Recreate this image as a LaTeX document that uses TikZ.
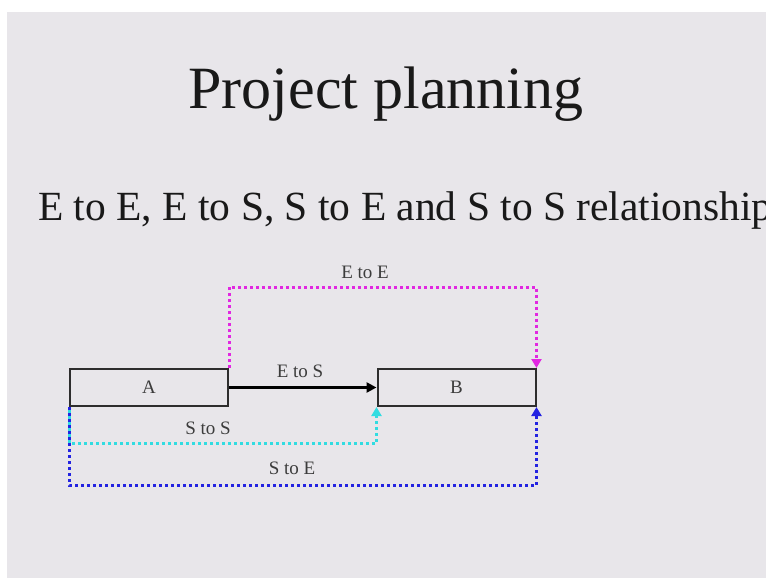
\documentclass[tikz,border=0pt]{standalone}
\usepackage{fontspec}
\setmainfont{Liberation Serif}
\usetikzlibrary{arrows.meta}
\definecolor{slidebg}{RGB}{232,230,234}
\definecolor{boxline}{RGB}{45,45,45}
\definecolor{eecol}{RGB}{225,40,225}
\definecolor{sscol}{RGB}{50,220,225}
\definecolor{secol}{RGB}{35,35,225}
\definecolor{lbl}{RGB}{60,60,60}
\tikzset{
  taskbox/.style={draw=boxline, line width=2pt, fill=slidebg, minimum width=158pt, minimum height=37pt, inner sep=0pt, font=\fontsize{19}{21}\selectfont, text=lbl},
  rel/.style={line width=3pt, dash pattern=on 3pt off 3pt, -{Triangle[width=10pt,length=9pt]}},
  lab/.style={font=\fontsize{19}{21}\selectfont, text=lbl, inner sep=0pt},
}
\begin{document}
\begin{tikzpicture}[x=1pt,y=-1pt]
\useasboundingbox (0,0) rectangle (766,578);
\fill[white] (0,0) rectangle (766,578);
\fill[slidebg] (7,12) rectangle (766,578);
\node[font=\fontsize{60}{66}\selectfont, text=black!90, anchor=base] (title) at (386,108) {Project planning};
\begin{scope}
\clip (7,12) rectangle (766,578);
\node[font=\fontsize{41.5}{46}\selectfont, text=black!90, anchor=base west, inner sep=0pt] (sub) at (38,220) {E to E, E to S, S to E and S to S relationship};
\end{scope}
\coordinate (topE) at (0,287);
\coordinate (botS) at (0,443);
\coordinate (botE) at (0,485);
\node[taskbox] (A) at (149,387.5) {A};
\node[taskbox] (B) at (456.5,387.5) {B};
\draw[line width=2.5pt, black, -{Triangle[width=10pt,length=10pt]}] (A.east) -- (B.west);
\draw[rel, eecol] (A.north east) -- (A.north east |- topE) -| (B.north east);
\draw[rel, secol] (A.south west) -- (A.south west |- botE) -| (B.south east);
\draw[rel, sscol] (A.south west |- 0,410) -- (A.south west |- botS) -| (B.south west);
\node[lab] (lEE) at (365,272) {E to E};
\node[lab] (lES) at (300,371) {E to S};
\node[lab] (lSS) at (208,428) {S to S};
\node[lab] (lSE) at (292,468) {S to E};
\end{tikzpicture}
\end{document}
